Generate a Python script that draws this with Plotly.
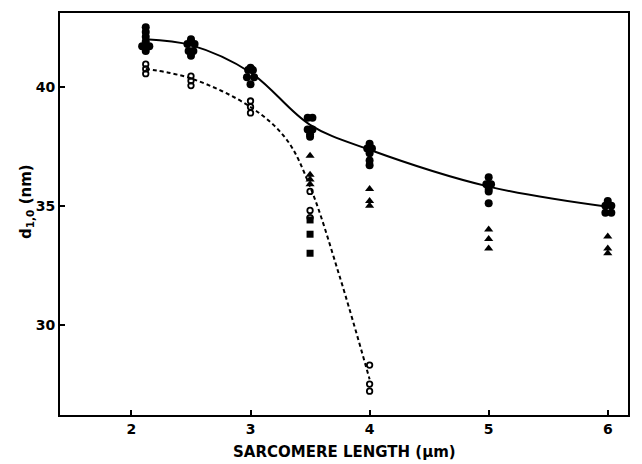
import plotly.graph_objects as go

# Filled circles (intact)
filled_x = [2.12, 2.12, 2.12, 2.12, 2.09, 2.15, 2.12,
            2.50, 2.47, 2.53, 2.48, 2.52, 2.50,
            3.00, 2.98, 3.02, 2.97, 3.03, 3.00,
            3.48, 3.52, 3.48, 3.52, 3.50, 3.50,
            4.00, 3.98, 4.02, 4.00, 4.00, 4.00,
            5.00, 4.98, 5.02, 5.00, 5.00, 5.00,
            6.00, 5.98, 6.03, 5.98, 6.03]
filled_y = [42.5, 42.3, 42.1, 41.9, 41.7, 41.7, 41.5,
            42.0, 41.8, 41.8, 41.5, 41.5, 41.3,
            40.8, 40.7, 40.7, 40.4, 40.4, 40.1,
            38.7, 38.7, 38.2, 38.2, 37.9, 38.0,
            37.6, 37.4, 37.4, 37.2, 36.9, 36.7,
            36.2, 35.9, 35.9, 35.7, 35.6, 35.1,
            35.2, 35.0, 35.0, 34.7, 34.7]

# Open circles
open_x = [2.12, 2.12, 2.12, 2.50, 2.50, 2.50, 3.00, 3.00, 3.00,
          3.50, 3.50, 3.50, 4.00, 4.00, 4.00]
open_y = [40.95, 40.75, 40.55, 40.45, 40.25, 40.05, 39.4, 39.15, 38.9,
          35.6, 34.8, 34.5, 28.3, 27.5, 27.2]

# Triangles
tri_x = [3.50, 3.50, 3.50, 3.50, 4.00, 4.00, 4.00, 5.00, 5.00, 5.00, 6.00, 6.00, 6.00]
tri_y = [37.1, 36.3, 36.1, 35.9, 35.7, 35.2, 35.0, 34.0, 33.6, 33.2, 33.7, 33.2, 33.0]

# Squares
sq_x = [3.50, 3.50, 3.50]
sq_y = [34.4, 33.8, 33.0]

# Fitted curves (drawn by eye in the original)
solid_x = [2.12, 2.5, 3.0, 3.5, 4.0, 5.0, 6.0]
solid_y = [42.0, 41.75, 40.6, 38.4, 37.35, 35.8, 34.95]
dash_x = [2.12, 2.5, 3.0, 3.3, 3.5, 3.75, 4.0]
dash_y = [40.75, 40.35, 39.15, 37.8, 35.8, 32.0, 27.7]

x_title = "<b>SARCOMERE LENGTH (µm)</b>"
y_title = "<b>d<sub>1,0</sub> (nm)</b>"

fig = go.Figure()
fig.add_trace(go.Scatter(x=solid_x, y=solid_y, mode="lines", line=dict(color="black", width=2, shape="spline", smoothing=1.0), hoverinfo="skip"))
fig.add_trace(go.Scatter(x=dash_x, y=dash_y, mode="lines", line=dict(color="black", width=2, dash="4px,3px", shape="spline", smoothing=1.0), hoverinfo="skip"))
fig.add_trace(go.Scatter(x=filled_x, y=filled_y, mode="markers", marker=dict(symbol="circle", size=8, color="black")))
fig.add_trace(go.Scatter(x=open_x, y=open_y, mode="markers", marker=dict(symbol="circle-open", size=5.5, color="black", line=dict(width=1.8))))
fig.add_trace(go.Scatter(x=tri_x, y=tri_y, mode="markers", marker=dict(symbol="triangle-up", size=8, color="black")))
fig.add_trace(go.Scatter(x=sq_x, y=sq_y, mode="markers", marker=dict(symbol="square", size=7, color="black")))

font = dict(family="DejaVu Sans, Liberation Sans, sans-serif", size=15, color="black")
fig.update_layout(
    width=642, height=464,
    margin=dict(l=60, r=14, t=13, b=49, autoexpand=False),
    paper_bgcolor="white", plot_bgcolor="white",
    showlegend=False,
    font=font,
    annotations=[
        dict(text=x_title, xref="paper", yref="paper", x=0.5, y=0,
             xanchor="center", yanchor="middle", yshift=-37, showarrow=False,
             font=dict(size=15)),
        dict(text=y_title, xref="paper", yref="paper", x=0, y=0.53,
             xanchor="center", yanchor="middle", xshift=-33, textangle=-90, showarrow=False,
             font=dict(size=15)),
    ],
)
fig.update_xaxes(
    range=[1.4, 6.17], tickvals=[2, 3, 4, 5, 6], ticktext=["<b>2</b>", "<b>3</b>", "<b>4</b>", "<b>5</b>", "<b>6</b>"],
    ticks="inside", ticklen=5, tickwidth=1.5, tickcolor="black",
    showline=True, linecolor="black", linewidth=2, mirror=True, showgrid=False, zeroline=False,
    tickfont=dict(size=14), automargin=False,
)
fig.update_yaxes(
    range=[26.2, 43.1], tickvals=[30, 35, 40], ticktext=["<b>30</b>", "<b>35</b>", "<b>40</b>"],
    ticks="inside", ticklen=5, tickwidth=1.5, tickcolor="black",
    showline=True, linecolor="black", linewidth=2, mirror=True, showgrid=False, zeroline=False,
    tickfont=dict(size=14), automargin=False,
)
fig.write_html("out.html")
